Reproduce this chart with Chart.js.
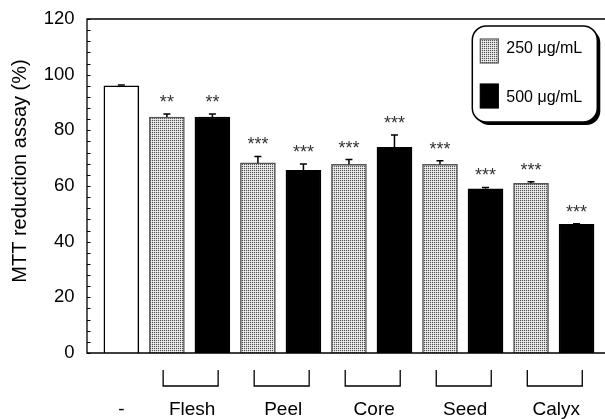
<!DOCTYPE html>
<html>
<head>
<meta charset="utf-8">
<script src="https://cdn.jsdelivr.net/npm/chart.js@4.4.0/dist/chart.umd.min.js"></script>
<style>
  html, body { margin: 0; padding: 0; background: #fff; }
</style>
</head>
<body>
<canvas id="myChart" width="605" height="419"></canvas>
<script>
// DATA
const controlLabel = '-';
const controlValue = 96.0;
const controlError = 0.3;
const groups = ['Flesh', 'Peel', 'Core', 'Seed', 'Calyx'];
const values250 = [84.8, 68.3, 67.8, 67.8, 61.0];
const errors250 = [1.1, 2.3, 1.7, 1.3, 0.5];
const values500 = [84.8, 65.6, 73.9, 59.0, 46.2];
const errors500 = [1.1, 2.3, 4.4, 0.5, 0.2];
const stars250 = ['**', '***', '***', '***', '***'];
const stars500 = ['**', '***', '***', '***', '***'];
const doseLabels = ['250 \u03bcg/mL', '500 \u03bcg/mL'];
const yTicks = [0, 20, 40, 60, 80, 100, 120];
const yTitle = 'MTT reduction assay (%)';

const FONT = "'Liberation Sans', Arial, sans-serif";

// dotted grey fill for the 250 bars
function makePattern() {
    const c = document.createElement('canvas');
    c.width = 2; c.height = 2;
    const g = c.getContext('2d');
    g.fillStyle = '#d8d8d8'; g.fillRect(0, 0, 2, 2);
    g.fillStyle = '#505050'; g.fillRect(0, 0, 1, 1);
    g.fillStyle = '#f0f0f0'; g.fillRect(1, 1, 1, 1);
    return g.createPattern(c, 'repeat');
}
const dotted = makePattern();

// one slot per bar: control, then 250/500 for every group
const slots = [controlLabel];
const dControl = [controlValue];
const d250 = [null];
const d500 = [null];
const e250 = [null], e500 = [null], s250 = [null], s500 = [null];
groups.forEach(function(g, i) {
    slots.push(g + ' 250', g + ' 500');
    dControl.push(null, null);
    d250.push(values250[i], null);
    d500.push(null, values500[i]);
    e250.push(errors250[i], null);
    e500.push(null, errors500[i]);
    s250.push(stars250[i], null);
    s500.push(null, stars500[i]);
});

const AXIS_GAP = 11.6; // y axis line sits left of the first slot

const decorations = {
    id: 'decorations',
    afterDatasetsDraw(chart) {
        const ctx = chart.ctx;
        const area = chart.chartArea;
        const y = chart.scales.y;
        const axisX = area.left - AXIS_GAP;
        ctx.save();
        ctx.strokeStyle = '#000';
        ctx.fillStyle = '#000';
        ctx.lineWidth = 1.3;

        // frame: left, top, bottom
        ctx.beginPath();
        ctx.moveTo(chart.width, area.top);
        ctx.lineTo(axisX, area.top);
        ctx.lineTo(axisX, area.bottom);
        ctx.lineTo(chart.width, area.bottom);
        ctx.stroke();

        // inward minor ticks every 4
        ctx.lineWidth = 1;
        ctx.beginPath();
        for (let v = 0; v <= 120; v += 4) {
            const py = Math.round(y.getPixelForValue(v)) + 0.5;
            ctx.moveTo(axisX, py);
            ctx.lineTo(axisX + 3.5, py);
        }
        ctx.stroke();

        // error bars and stars
        chart.data.datasets.forEach(function(ds, di) {
            const meta = chart.getDatasetMeta(di);
            ds.data.forEach(function(v, i) {
                if (v === null) return;
                const bar = meta.data[i];
                const top = y.getPixelForValue(v + ds.errors[i]);
                ctx.lineWidth = 1.5;
                ctx.beginPath();
                ctx.moveTo(bar.x, bar.y);
                ctx.lineTo(bar.x, top);
                ctx.moveTo(bar.x - 3.5, top);
                ctx.lineTo(bar.x + 3.5, top);
                ctx.stroke();
                if (ds.stars && ds.stars[i]) {
                    ctx.font = '18px ' + FONT;
                    ctx.fillStyle = '#333';
                    ctx.textAlign = 'center';
                    ctx.textBaseline = 'alphabetic';
                    ctx.fillText(ds.stars[i], bar.x, top - 6);
                    ctx.fillStyle = '#000';
                }
            });
        });

        // brackets and group labels
        const m0 = chart.getDatasetMeta(0);
        const m1 = chart.getDatasetMeta(1);
        const m2 = chart.getDatasetMeta(2);
        ctx.font = '19px ' + FONT;
        ctx.textAlign = 'center';
        ctx.textBaseline = 'alphabetic';
        ctx.fillText(controlLabel, m0.data[0].x, 415);
        ctx.lineWidth = 1.3;
        groups.forEach(function(g, i) {
            const cx = (m1.data[1 + 2 * i].x + m2.data[2 + 2 * i].x) / 2 + 1;
            ctx.beginPath();
            ctx.moveTo(cx - 27.5, 370);
            ctx.lineTo(cx - 27.5, 386);
            ctx.lineTo(cx + 27.5, 386);
            ctx.lineTo(cx + 27.5, 370);
            ctx.stroke();
            ctx.fillText(g, cx + 1.5, 415);
        });

        // legend box with drop shadow
        const bx = area.right - 127, by = area.top + 7, bw = 125, bh = 96, r = 14;
        ctx.beginPath();
        ctx.roundRect(bx + 3, by + 3, bw, bh, r);
        ctx.fill();
        ctx.beginPath();
        ctx.roundRect(bx, by, bw, bh, r);
        ctx.fillStyle = '#fff';
        ctx.fill();
        ctx.lineWidth = 1.5;
        ctx.stroke();
        const items = [chart.data.datasets[1], chart.data.datasets[2]];
        items.forEach(function(ds, k) {
            const sy = by + 13 + k * 45;
            ctx.fillStyle = ds.backgroundColor;
            ctx.fillRect(bx + 8, sy, 18, 24);
            ctx.strokeStyle = ds.borderColor;
            ctx.lineWidth = 1.2;
            ctx.strokeRect(bx + 8, sy, 18, 24);
            ctx.fillStyle = '#000';
            ctx.font = '16px ' + FONT;
            ctx.textAlign = 'left';
            ctx.fillText(ds.label, bx + 34, by + 27 + k * 49);
        });

        // y title
        ctx.translate(26, 171);
        ctx.rotate(-Math.PI / 2);
        ctx.font = '20px ' + FONT;
        ctx.textAlign = 'center';
        ctx.fillText(yTitle, 0, 0);
        ctx.restore();
    }
};

const ctx = document.getElementById('myChart').getContext('2d');
new Chart(ctx, {
    type: 'bar',
    data: {
        labels: slots,
        datasets: [{
            label: 'Control',
            data: dControl,
            errors: [controlError],
            backgroundColor: '#fff',
            borderColor: '#000',
            borderWidth: 1.5
        }, {
            label: doseLabels[0],
            data: d250,
            errors: e250,
            stars: s250,
            backgroundColor: dotted,
            borderColor: '#555',
            borderWidth: 1.5
        }, {
            label: doseLabels[1],
            data: d500,
            errors: e500,
            stars: s500,
            backgroundColor: '#000',
            borderColor: '#000',
            borderWidth: 1.5
        }]
    },
    options: {
        responsive: false,
        animation: false,
        layout: { padding: { top: 19, right: 5.7, bottom: 66, left: 0 } },
        plugins: { legend: { display: false }, tooltip: { enabled: false } },
        datasets: { bar: { barThickness: 35, skipNull: true } },
        scales: {
            x: {
                display: false,
                stacked: true
            },
            y: {
                min: 0,
                max: 120,
                border: { display: false },
                // grid hidden; tickLength only pushes the labels left
                grid: { display: false, drawTicks: true, tickLength: 22 },
                afterBuildTicks: function(scale) {
                    scale.ticks = yTicks.map(function(v) { return { value: v }; });
                },
                afterFit: function(scale) { scale.width = 98.6; },
                ticks: {
                    padding: 2,
                    color: '#000',
                    font: { family: FONT, size: 18.5 }
                }
            }
        }
    },
    plugins: [decorations]
});
</script>
</body>
</html>
